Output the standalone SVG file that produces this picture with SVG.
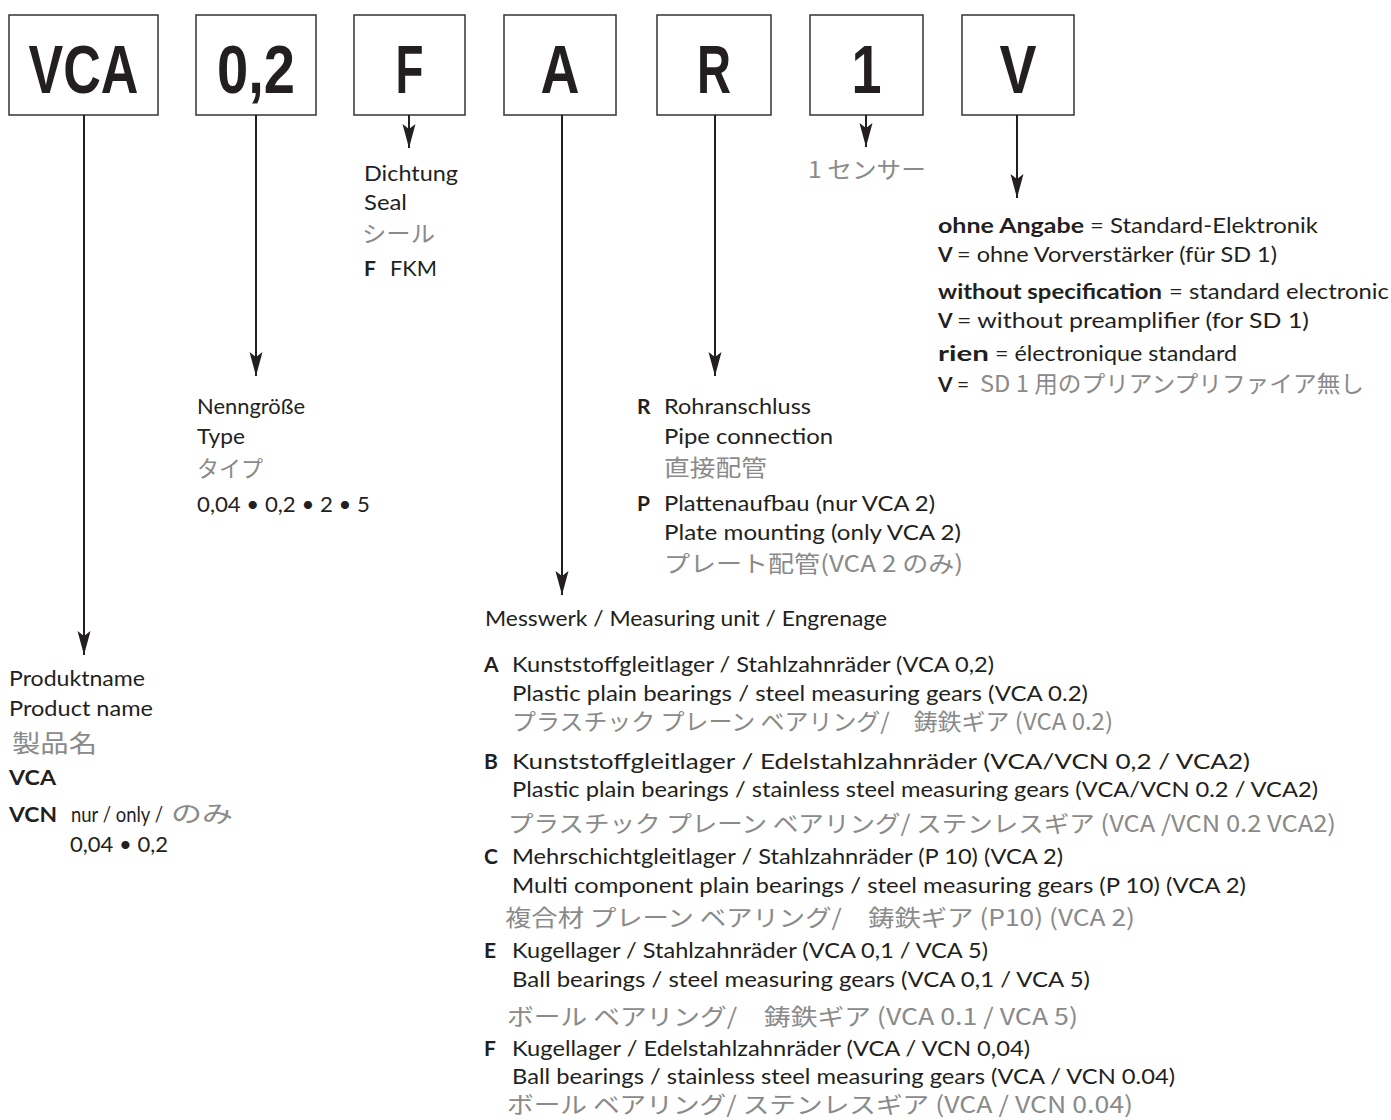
<svg xmlns="http://www.w3.org/2000/svg" width="1391" height="1120" viewBox="0 0 1391 1120">
<style>
text{font-family:"Lato","Noto Sans",sans-serif;font-size:21px;fill:#231f20}
.b{font-weight:bold}
.jp{font-family:"Noto Sans CJK JP","Noto Sans",sans-serif;font-size:23px;fill:#8a8a8a}
.box{fill:#fff;stroke:#333;stroke-width:1.5}
.big{font-family:"Liberation Sans",Arial,sans-serif;font-weight:bold;font-size:69px;text-anchor:middle;fill:#231f20}
.con line{stroke:#231f20;stroke-width:2;marker-end:url(#ah)}
</style>
<defs>
<marker id="ah" markerUnits="userSpaceOnUse" markerWidth="26" markerHeight="14" refX="24" refY="6.5" orient="auto">
<path d="M0,0 L24,6.5 L0,13 L5,6.5 Z" fill="#231f20"/>
</marker>
</defs>
<rect width="1391" height="1120" fill="#fff"/>
<g id="boxes">
<g id="n-vca"><rect class="box" x="9" y="15" width="149" height="100"/><text class="big" x="83.5" y="93" textLength="110" lengthAdjust="spacingAndGlyphs">VCA</text></g>
<g id="n-02"><rect class="box" x="196" y="15" width="120" height="100"/><text class="big" x="256" y="93" textLength="78" lengthAdjust="spacingAndGlyphs">0,2</text></g>
<g id="n-f"><rect class="box" x="354" y="15" width="111" height="100"/><text class="big" x="409.5" y="93" textLength="28" lengthAdjust="spacingAndGlyphs">F</text></g>
<g id="n-a"><rect class="box" x="504" y="15" width="112" height="100"/><text class="big" x="560" y="93" textLength="39" lengthAdjust="spacingAndGlyphs">A</text></g>
<g id="n-r"><rect class="box" x="657" y="15" width="114" height="100"/><text class="big" x="714" y="93" textLength="34" lengthAdjust="spacingAndGlyphs">R</text></g>
<g id="n-1"><rect class="box" x="810" y="15" width="113" height="100"/><text class="big" x="866.5" y="93" textLength="30" lengthAdjust="spacingAndGlyphs">1</text></g>
<g id="n-v"><rect class="box" x="962" y="15" width="112" height="100"/><text class="big" x="1018" y="93" textLength="37" lengthAdjust="spacingAndGlyphs">V</text></g>
</g>
<g id="connectors" class="con">
<line x1="84" y1="115" x2="84" y2="655"/>
<line x1="256" y1="115" x2="256" y2="376"/>
<line x1="409" y1="115" x2="409" y2="148"/>
<line x1="562" y1="115" x2="562" y2="595"/>
<line x1="715" y1="115" x2="715" y2="376"/>
<line x1="866" y1="115" x2="866" y2="147"/>
<line x1="1017" y1="115" x2="1017" y2="198"/>
</g>
<g id="label-vca">
<text x="9" y="686" textLength="136" lengthAdjust="spacingAndGlyphs">Produktname</text>
<text x="9" y="716" textLength="144" lengthAdjust="spacingAndGlyphs">Product name</text>
<text class="jp" x="12" y="752" textLength="85" lengthAdjust="spacingAndGlyphs" style="font-size:24px">製品名</text>
<text class="b" x="9" y="785" textLength="47" lengthAdjust="spacingAndGlyphs">VCA</text>
<text class="b" x="9" y="822" textLength="48" lengthAdjust="spacingAndGlyphs">VCN</text>
<text x="71" y="822" textLength="92" lengthAdjust="spacingAndGlyphs">nur / only /</text>
<text class="jp" x="171" y="822" textLength="62" lengthAdjust="spacingAndGlyphs">のみ</text>
<text x="70" y="852" textLength="98" lengthAdjust="spacingAndGlyphs">0,04 • 0,2</text>
</g>
<g id="label-02">
<text x="197" y="414" textLength="108" lengthAdjust="spacingAndGlyphs">Nenngröße</text>
<text x="197" y="444" textLength="48" lengthAdjust="spacingAndGlyphs">Type</text>
<text class="jp" x="197" y="477" textLength="66" lengthAdjust="spacingAndGlyphs">タイプ</text>
<text x="197" y="512" textLength="173" lengthAdjust="spacingAndGlyphs">0,04 • 0,2 • 2 • 5</text>
</g>
<g id="label-f">
<text x="364" y="181" textLength="94" lengthAdjust="spacingAndGlyphs">Dichtung</text>
<text x="364" y="210" textLength="43" lengthAdjust="spacingAndGlyphs">Seal</text>
<text class="jp" x="362" y="242" textLength="73" lengthAdjust="spacingAndGlyphs">シール</text>
<text class="b" x="364" y="276">F</text>
<text x="390" y="276" textLength="47" lengthAdjust="spacingAndGlyphs">FKM</text>
</g>
<g id="label-1">
<text class="jp" x="808" y="178" textLength="118" lengthAdjust="spacingAndGlyphs">1 センサー</text>
</g>
<g id="label-v">
<text class="b" x="938" y="233" textLength="146" lengthAdjust="spacingAndGlyphs">ohne Angabe</text>
<text x="1090" y="233" textLength="228" lengthAdjust="spacingAndGlyphs">= Standard-Elektronik</text>
<text class="b" x="938" y="262">V</text>
<text x="957" y="262" textLength="320" lengthAdjust="spacingAndGlyphs">= ohne Vorverstärker (für SD 1)</text>
<text class="b" x="938" y="299" textLength="224" lengthAdjust="spacingAndGlyphs">without specification</text>
<text x="1169" y="299" textLength="220" lengthAdjust="spacingAndGlyphs">= standard electronic</text>
<text class="b" x="938" y="328">V</text>
<text x="957" y="328" textLength="352" lengthAdjust="spacingAndGlyphs">= without preamplifier (for SD 1)</text>
<text class="b" x="938" y="361" textLength="51" lengthAdjust="spacingAndGlyphs">rien</text>
<text x="995" y="361" textLength="242" lengthAdjust="spacingAndGlyphs">= électronique standard</text>
<text class="b" x="938" y="392">V</text>
<text x="957" y="392">=</text>
<text class="jp" x="980" y="392" textLength="384" lengthAdjust="spacingAndGlyphs">SD 1 用のプリアンプリファイア無し</text>
</g>
<g id="label-r">
<text class="b" x="637" y="414">R</text>
<text x="664" y="414" textLength="147" lengthAdjust="spacingAndGlyphs">Rohranschluss</text>
<text x="664" y="444" textLength="169" lengthAdjust="spacingAndGlyphs">Pipe connection</text>
<text class="jp" x="664" y="476" textLength="103" lengthAdjust="spacingAndGlyphs">直接配管</text>
<text class="b" x="637" y="511">P</text>
<text x="664" y="511" textLength="271" lengthAdjust="spacingAndGlyphs">Plattenaufbau  (nur VCA 2)</text>
<text x="664" y="540" textLength="297" lengthAdjust="spacingAndGlyphs">Plate mounting  (only VCA 2)</text>
<text class="jp" x="664" y="572" textLength="299" lengthAdjust="spacingAndGlyphs">プレート配管(VCA 2 のみ)</text>
</g>
<g id="label-a">
<text x="485" y="626" textLength="402" lengthAdjust="spacingAndGlyphs">Messwerk / Measuring unit / Engrenage</text>
<text class="b" x="484" y="672">A</text>
<text x="512" y="672" textLength="482" lengthAdjust="spacingAndGlyphs">Kunststoffgleitlager / Stahlzahnräder (VCA 0,2)</text>
<text x="512" y="701" textLength="576" lengthAdjust="spacingAndGlyphs">Plastic plain bearings / steel measuring gears (VCA 0.2)</text>
<text class="jp" x="512" y="730" textLength="601" lengthAdjust="spacingAndGlyphs">プラスチック プレーン ベアリング/　鋳鉄ギア  (VCA 0.2)</text>
<text class="b" x="484" y="769">B</text>
<text x="512" y="769" textLength="738" lengthAdjust="spacingAndGlyphs">Kunststoffgleitlager / Edelstahlzahnräder (VCA/VCN 0,2 / VCA2)</text>
<text x="512" y="797" textLength="806" lengthAdjust="spacingAndGlyphs">Plastic plain bearings / stainless steel measuring gears (VCA/VCN 0.2 / VCA2)</text>
<text class="jp" x="508" y="832" textLength="828" lengthAdjust="spacingAndGlyphs">プラスチック プレーン ベアリング/ ステンレスギア  (VCA /VCN 0.2  VCA2)</text>
<text class="b" x="484" y="864">C</text>
<text x="512" y="864" textLength="551" lengthAdjust="spacingAndGlyphs">Mehrschichtgleitlager / Stahlzahnräder (P 10) (VCA 2)</text>
<text x="512" y="893" textLength="734" lengthAdjust="spacingAndGlyphs">Multi component plain bearings / steel measuring gears (P 10) (VCA 2)</text>
<text class="jp" x="505" y="926" textLength="630" lengthAdjust="spacingAndGlyphs">複合材 プレーン ベアリング/　鋳鉄ギア  (P10)  (VCA 2)</text>
<text class="b" x="484" y="958">E</text>
<text x="512" y="958" textLength="476" lengthAdjust="spacingAndGlyphs">Kugellager / Stahlzahnräder (VCA 0,1 / VCA 5)</text>
<text x="512" y="987" textLength="578" lengthAdjust="spacingAndGlyphs">Ball bearings / steel measuring gears (VCA 0,1 / VCA 5)</text>
<text class="jp" x="507" y="1025" textLength="571" lengthAdjust="spacingAndGlyphs">ボール ベアリング/　鋳鉄ギア  (VCA 0.1  /  VCA 5)</text>
<text class="b" x="484" y="1056">F</text>
<text x="512" y="1056" textLength="518" lengthAdjust="spacingAndGlyphs">Kugellager / Edelstahlzahnräder (VCA / VCN 0,04)</text>
<text x="512" y="1084" textLength="663" lengthAdjust="spacingAndGlyphs">Ball bearings / stainless steel measuring gears (VCA / VCN 0.04)</text>
<text class="jp" x="507" y="1113" textLength="626" lengthAdjust="spacingAndGlyphs">ボール ベアリング/ ステンレスギア  (VCA  /  VCN   0.04)</text>
</g>
</svg>
